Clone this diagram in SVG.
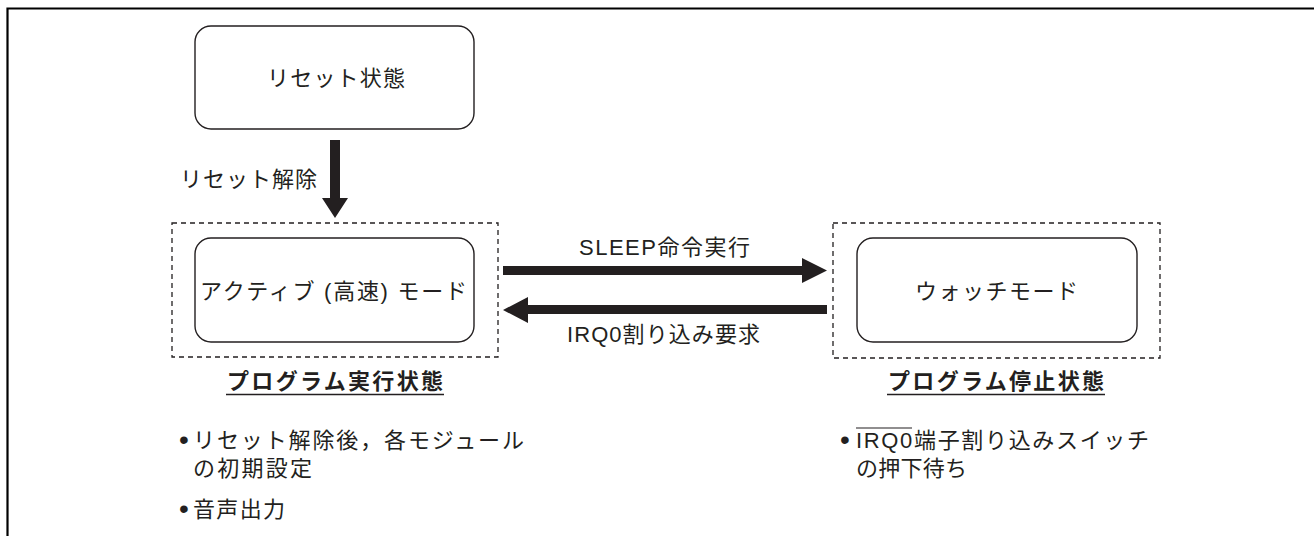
<svg xmlns="http://www.w3.org/2000/svg" width="1314" height="536" viewBox="0 0 1314 536">
<style>
text{font-family:"Liberation Sans","Noto Sans CJK JP",sans-serif;font-size:22px;fill:#231f20}
.b{font-weight:bold;font-size:22px}
.dot{font-size:28px}
.node{fill:#fff;stroke:#231f20;stroke-width:1.4}
.group{fill:none;stroke:#231f20;stroke-width:1.3;stroke-dasharray:5 4}
.arrow{fill:#231f20}
.frame{fill:none;stroke:#000;stroke-width:2.2}
.ul{stroke:#231f20;stroke-width:1.6}
</style>
<rect width="1314" height="536" fill="#fff"/>
<path class="frame" d="M7.5 536 V8.5 H1314"/>
<g id="reset">
<rect class="node" x="195" y="26" width="279" height="103" rx="16"/>
<text x="267" y="86" textLength="138" lengthAdjust="spacing">リセット状態</text>
</g>
<g id="run-state">
<rect class="group" x="172" y="223" width="326" height="134"/>
<rect class="node" x="195" y="238" width="279" height="104" rx="16"/>
<text x="200" y="299" textLength="267" lengthAdjust="spacing">アクティブ (高速) モード</text>
<text class="b" x="227" y="389" textLength="216" lengthAdjust="spacing">プログラム実行状態</text>
<line class="ul" x1="226" y1="394.5" x2="444" y2="394.5"/>
</g>
<g id="stop-state">
<rect class="group" x="833" y="223" width="327" height="135"/>
<rect class="node" x="857" y="238" width="280" height="104" rx="16"/>
<text x="915" y="299" textLength="163" lengthAdjust="spacing">ウォッチモード</text>
<text class="b" x="888" y="389" textLength="216" lengthAdjust="spacing">プログラム停止状態</text>
<line class="ul" x1="887" y1="394.5" x2="1105" y2="394.5"/>
</g>
<g id="connectors">
<polygon class="arrow" points="330,140 340,140 340,198 348,198 335,218 322,198 330,198"/>
<text x="180" y="187" textLength="137" lengthAdjust="spacing">リセット解除</text>
<polygon class="arrow" points="503,266 802,266 802,258 827,270.5 802,283 802,275 503,275"/>
<text x="579" y="255" textLength="171" lengthAdjust="spacing">SLEEP命令実行</text>
<polygon class="arrow" points="827,305 528,305 528,297 503,310 528,323 528,314 827,314"/>
<text x="567" y="342" textLength="193" lengthAdjust="spacing">IRQ0割り込み要求</text>
</g>
<g id="notes-run">
<text class="dot" x="184" y="449" text-anchor="middle">•</text>
<text x="193" y="448" textLength="331" lengthAdjust="spacing">リセット解除後，各モジュール</text>
<text x="193" y="476" textLength="119" lengthAdjust="spacing">の初期設定</text>
<text class="dot" x="184" y="518" text-anchor="middle">•</text>
<text x="193" y="517" textLength="92" lengthAdjust="spacing">音声出力</text>
</g>
<g id="notes-stop">
<text class="dot" x="845" y="449" text-anchor="middle">•</text>
<text x="856" y="448" textLength="293" lengthAdjust="spacing">IRQ0端子割り込みスイッチ</text>
<line class="ul" x1="856" y1="428" x2="912" y2="428" style="stroke-width:1.2"/>
<text x="856" y="476" textLength="111" lengthAdjust="spacing">の押下待ち</text>
</g>
</svg>
